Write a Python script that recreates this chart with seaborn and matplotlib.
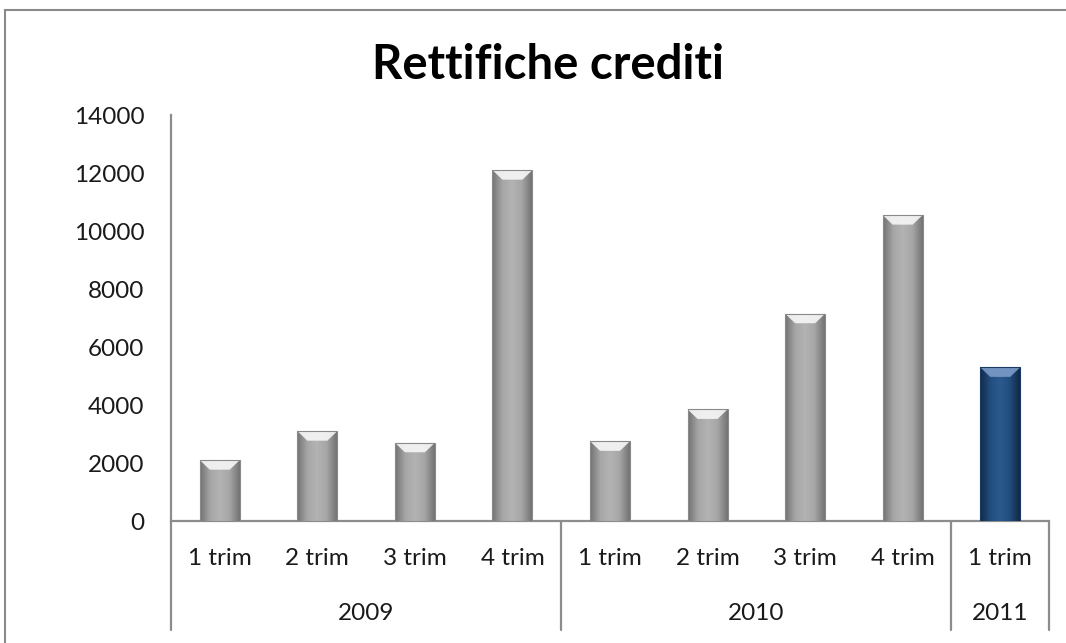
import numpy as np
import pandas as pd
import matplotlib
matplotlib.use("Agg")
import matplotlib.pyplot as plt
import seaborn as sns
from matplotlib.colors import LinearSegmentedColormap
from matplotlib.patches import Polygon, Rectangle
import matplotlib.transforms as mtransforms

# data
quarters = ["1 trim", "2 trim", "3 trim", "4 trim",
            "1 trim", "2 trim", "3 trim", "4 trim",
            "1 trim"]
years = ["2009", "2009", "2009", "2009",
         "2010", "2010", "2010", "2010",
         "2011"]
values = [2100, 3100, 2700, 12100, 2750, 3850, 7150, 10550, 5300]
year_labels = ["2009", "2010", "2011"]
yticks = [0, 2000, 4000, 6000, 8000, 10000, 12000, 14000]

df = pd.DataFrame({"pos": [str(i) for i in range(len(values))],
                   "trim": quarters, "anno": years, "valore": values})
palette = ["#A6A6A6"] * 8 + ["#1F497D"]

sns.set_theme(style="white")
plt.rcParams["font.family"] = ["Lato", "DejaVu Sans"]

fig = plt.figure(figsize=(10.66, 6.43), dpi=100)
ax = fig.add_axes([171 / 1066, 1 - 521 / 643, (1049 - 171) / 1066, (521 - 115) / 643])

sns.barplot(data=df, x="pos", y="valore", hue="pos", palette=palette,
            legend=False, width=0.41, ax=ax, saturation=1, edgecolor="none")

ax.set_ylim(0, 14000)
ax.set_xlim(-0.5, len(values) - 0.5)
ax.set_yticks(yticks)
ax.set_yticklabels([str(t) for t in yticks], fontsize=17.5, color="#1a1a1a")
ax.tick_params(axis="y", length=0, pad=19)
ax.set_xticks([])
ax.set_xlabel("")
ax.set_ylabel("")
for s in ["top", "right"]:
    ax.spines[s].set_visible(False)
for s in ["left", "bottom"]:
    ax.spines[s].set_color("#8c8c8c")
    ax.spines[s].set_linewidth(1.6)

# bevel look: horizontal gradient clipped to each bar plus a light top facet
gray_cmap = LinearSegmentedColormap.from_list("g", ["#737373", "#a6a6a6", "#b3b3b3", "#a6a6a6", "#737373"])
blue_cmap = LinearSegmentedColormap.from_list("b", ["#112a47", "#234d7f", "#2b5a8f", "#234d7f", "#112a47"])
grad = np.linspace(0, 1, 64).reshape(1, -1)
top_h = 330
for i, p in enumerate(ax.patches):
    x0, w, h = p.get_x(), p.get_width(), p.get_height()
    cmap = blue_cmap if i == len(values) - 1 else gray_cmap
    im = ax.imshow(grad, cmap=cmap, aspect="auto", extent=[x0, x0 + w, 0, h], zorder=3)
    im.set_clip_path(p)
    d = w * 0.25
    top_col = "#7c9bc8" if i == len(values) - 1 else "#f7f7f7"
    ax.add_patch(Polygon([[x0, h], [x0 + w, h], [x0 + w - d, h - top_h], [x0 + d, h - top_h]],
                         closed=True, facecolor=top_col, edgecolor="none", alpha=0.9, zorder=4))
    ax.add_patch(Rectangle((x0, 0), w, h, facecolor="none", edgecolor="#8a8a8a" if i < 8 else "#1a3a63",
                           linewidth=0.8, zorder=5))
ax.set_xlim(-0.5, len(values) - 0.5)
ax.set_ylim(0, 14000)

# two-level category axis
trans = mtransforms.blended_transform_factory(ax.transData, ax.transAxes)
for i, q in enumerate(quarters):
    ax.text(i, -0.093, q, transform=trans, ha="center", va="center", fontsize=17.5, color="#1a1a1a")
groups = {}
for i, y in enumerate(years):
    groups.setdefault(y, []).append(i)
for y in year_labels:
    idx = groups[y]
    ax.text((idx[0] + idx[-1]) / 2, -0.227, y, transform=trans, ha="center", va="center",
            fontsize=17.5, color="#1a1a1a")
bounds = [groups[y][0] - 0.5 for y in year_labels] + [len(values) - 0.5]
for b in bounds:
    ax.plot([b, b], [0, -0.268], transform=trans, color="#8c8c8c", lw=1.6, clip_on=False)

fig.suptitle("Rettifiche crediti", x=(368 + 727) / 2 / 1066, y=1 - 65 / 643, va="center",
             fontsize=34, fontweight="bold", color="black")

# chart area border
fig.patches.append(Rectangle((5 / 1066, -0.1), 1.2, 1.1 - 10 / 643, transform=fig.transFigure,
                             facecolor="none", edgecolor="#8a8a8a", linewidth=1.5))

fig.savefig("out.png", dpi=100)
